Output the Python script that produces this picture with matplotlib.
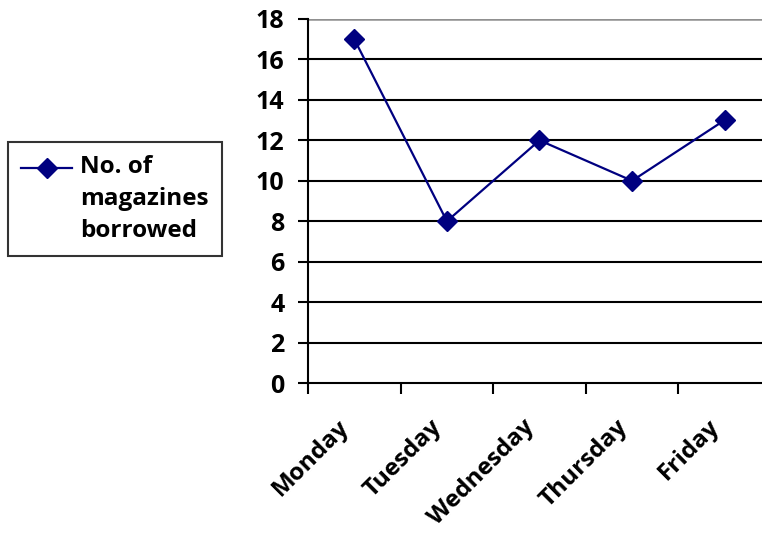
import matplotlib
matplotlib.use("Agg")
import matplotlib.pyplot as plt
from matplotlib.transforms import ScaledTranslation

days = ["Monday", "Tuesday", "Wednesday", "Thursday", "Friday"]
borrowed = [17, 8, 12, 10, 13]
yticks = [0, 2, 4, 6, 8, 10, 12, 14, 16, 18]
series_label = "No. of\nmagazines\nborrowed"

plt.rcParams['font.family'] = ['Open Sans', 'DejaVu Sans']
plt.rcParams['font.weight'] = 'bold'

fig = plt.figure(figsize=(7.62, 5.36), dpi=100)
ax = fig.add_axes([0.4042, 0.2854, 0.6076, 0.6792])

x = list(range(len(days)))
line, = ax.plot(x, borrowed, color='#000080', lw=1.6, marker='D', ms=10,
                markerfacecolor='#000080', markeredgecolor='#000080',
                label=series_label, zorder=3, clip_on=False)

ax.set_xlim(-0.5, len(days) - 0.5)
ax.set_ylim(0, 18)
ax.set_yticks(yticks)
ax.set_yticklabels([str(t) for t in yticks], fontsize=18, fontweight='bold')
for t in yticks[1:-1]:
    ax.axhline(t, color='black', lw=1.5, zorder=1)
ax.axhline(18, color='#909090', lw=1.8, zorder=1)

# category boundaries carry the tick marks
ax.set_xticks([i - 0.5 for i in range(len(days) + 1)])
ax.set_xticklabels([])
ax.set_xticks(x, minor=True)
ax.set_xticklabels(days, minor=True, rotation=45, ha='right', va='bottom',
                   rotation_mode='anchor', fontsize=17.5, fontweight='bold')
ax.tick_params(axis='x', which='minor', length=0, pad=35)
ax.tick_params(axis='x', which='major', length=8, width=1.5, direction='out')
ax.tick_params(axis='y', length=7, width=1.5, direction='out', pad=10)

for side in ['top', 'right']:
    ax.spines[side].set_visible(False)
ax.spines['left'].set_linewidth(1.5)
ax.spines['bottom'].set_linewidth(1.5)

leg = fig.legend(handles=[line], loc='center left', bbox_to_anchor=(0.0105, 0.6287),
                 frameon=True, fancybox=False, edgecolor='black',
                 prop={'size': 17.5, 'weight': 'bold'}, handlelength=2.1,
                 borderpad=0.55, handletextpad=0.3, borderaxespad=0,
                 alignment='left')
leg.get_frame().set_linewidth(1.5)
leg_text = leg.get_texts()[0]
leg_text.set_linespacing(1.45)
leg_text.set_multialignment('left')

# in the original the marker sits level with the first line of the label
for h in leg.legend_handles:
    h.set_transform(h.get_transform() + ScaledTranslation(0, 0.32, fig.dpi_scale_trans))

fig.savefig("out.png", dpi=100)
